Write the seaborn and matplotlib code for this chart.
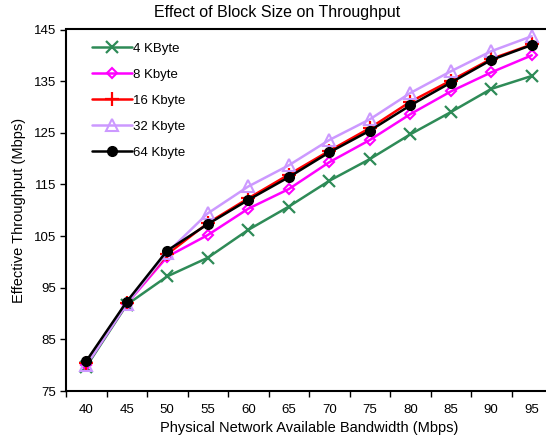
import matplotlib
matplotlib.use("Agg")
import matplotlib.pyplot as plt
import seaborn as sns
import pandas as pd
import numpy as np

bandwidth = ["40", "45", "50", "55", "60", "65", "70", "75", "80", "85", "90", "95"]
kb4 = [79.7, 91.7, 97.2, 100.8, 106.2, 110.7, 115.7, 119.9, 124.7, 129.0, 133.5, 136.0]
kb8 = [80.0, 91.9, 101.0, 105.2, 110.3, 114.1, 119.3, 123.6, 128.6, 133.0, 136.7, 140.0]
kb16 = [80.5, 92.1, 101.5, 107.5, 112.3, 116.9, 121.5, 125.9, 131.0, 135.1, 139.3, 142.1]
kb32 = [80.0, 91.9, 101.8, 109.4, 114.6, 118.7, 123.6, 127.6, 132.7, 136.9, 140.8, 143.7]
kb64 = [80.8, 92.3, 102.2, 107.3, 112.0, 116.4, 121.2, 125.4, 130.3, 134.7, 139.1, 142.0]
series_names = ["4 KByte", "8 Kbyte", "16 Kbyte", "32 Kbyte", "64 Kbyte"]
series_values = [kb4, kb8, kb16, kb32, kb64]
y_ticks = [75, 85, 95, 105, 115, 125, 135, 145]

sns.set_theme(style="white")
plt.rcParams['font.family'] = ['Liberation Sans', 'DejaVu Sans']
plt.rcParams['text.color'] = 'black'
plt.rcParams['axes.labelcolor'] = 'black'
plt.rcParams['xtick.color'] = 'black'
plt.rcParams['ytick.color'] = 'black'

styles = [
    dict(color="#2E8B57", marker="x", markersize=8, markeredgewidth=1.6, markerfacecolor="#2E8B57", markeredgecolor="#2E8B57"),
    dict(color="#FF00FF", marker="D", markersize=5.5, markeredgewidth=1.5, markerfacecolor="none", markeredgecolor="#FF00FF"),
    dict(color="#FF0000", marker="+", markersize=10, markeredgewidth=1.6, markerfacecolor="#FF0000", markeredgecolor="#FF0000"),
    dict(color="#CC99FF", marker="^", markersize=8, markeredgewidth=1.5, markerfacecolor="none", markeredgecolor="#CC99FF"),
    dict(color="#000000", marker="o", markersize=7, markeredgewidth=1.0, markerfacecolor="#000000", markeredgecolor="#000000"),
]

fig = plt.figure(figsize=(5.46, 4.44), dpi=100)
ax = fig.add_axes([66/546, (444-391)/444, (552-66)/546, (391-29.5)/444])

for name, vals, st in zip(series_names, series_values, styles):
    df = pd.DataFrame({"bw": bandwidth, "tp": vals})
    sns.lineplot(data=df, x="bw", y="tp", ax=ax, label=name, linewidth=1.8, **st)

ax.set_xlim(-0.5, len(bandwidth) - 0.5)
ax.set_ylim(75, 145)
ax.set_yticks(y_ticks)
ax.set_xticks(range(len(bandwidth)))
ax.set_xticklabels(bandwidth)
ax.set_xticks(np.arange(-0.5, len(bandwidth)), minor=True)
ax.tick_params(axis="x", which="major", length=0, labelsize=9.5, pad=9, labelcolor="black")
ax.tick_params(axis="x", which="minor", length=4, width=1, direction="out", color="black", bottom=True)
ax.tick_params(axis="y", which="major", length=4, width=1, direction="out", color="black", left=True, labelsize=9.5, pad=3, labelcolor="black")

for s in ["left", "top", "bottom"]:
    ax.spines[s].set_color("black")
    ax.spines[s].set_linewidth(1.5)
ax.spines["right"].set_visible(False)

ax.set_xlabel("Physical Network Available Bandwidth (Mbps)", fontsize=10.5, labelpad=4, color="black")
ax.set_ylabel("Effective Throughput (Mbps)", fontsize=10.5, labelpad=6, color="black")
fig.text(277/546, 1 - 12/444, "Effect of Block Size on Throughput", fontsize=11.5,
         ha="center", va="center", color="black")

leg = ax.legend(loc="upper left", bbox_to_anchor=(0.035, 0.99), frameon=False, fontsize=9.5,
                handlelength=3.0, labelspacing=1.05, handletextpad=0.1, borderaxespad=0.3)
for t in leg.get_texts():
    t.set_color("black")

fig.savefig("out.png", dpi=100)
